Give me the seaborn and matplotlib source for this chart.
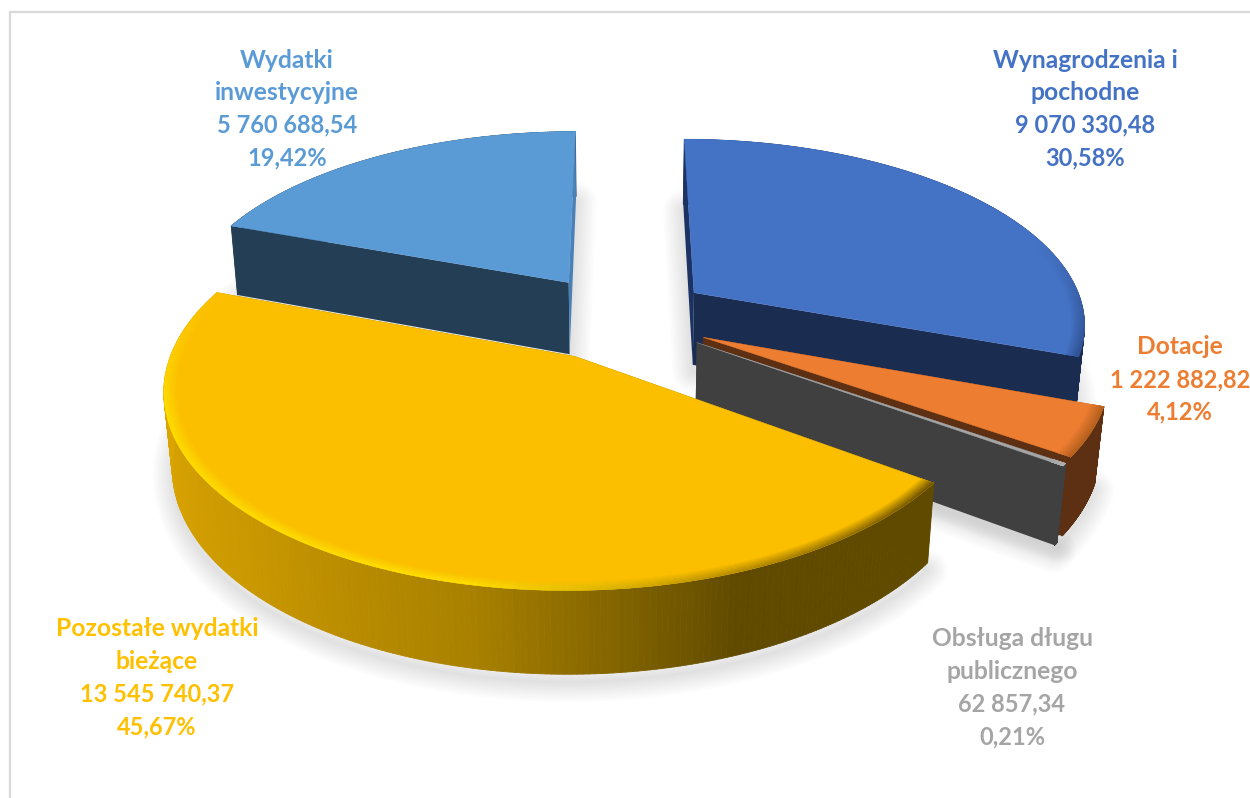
import numpy as np
import seaborn as sns
import matplotlib.pyplot as plt
from matplotlib.collections import PolyCollection

sns.set_theme(style='white')
plt.rcParams['font.family'] = ['Lato', 'DejaVu Sans']

# Data, clockwise from 12 o'clock
names = [['Wynagrodzenia i', 'pochodne'], ['Dotacje'], ['Obsługa długu', 'publicznego'],
         ['Pozostałe wydatki', 'bieżące'], ['Wydatki', 'inwestycyjne']]
values = [9070330.48, 1222882.82, 62857.34, 13545740.37, 5760688.54]
value_labels = ['9 070 330,48', '1 222 882,82', '62 857,34', '13 545 740,37', '5 760 688,54']
percent_labels = ['30,58%', '4,12%', '0,21%', '45,67%', '19,42%']

# Colours per slice
top_colors = ['#4472C4', '#ED7D31', '#A5A5A5', '#FBBF00', '#5B9BD5']
text_colors = ['#4472C4', '#ED7D31', '#A5A5A5', '#FFC000', '#5B9BD5']
start_face = ['#1C3263', '#5E3013', '#404040', '#604A00', '#243F55']
end_face = ['#1A2C50', '#5E3013', '#404040', '#604A00', '#4A80B5']
side_stops = [['#1F3565', '#1A2C50'], ['#5E3013', '#5E3013'], ['#404040', '#404040'],
              ['#604A00', '#604A00', '#A98100', '#C99700', '#DAA400', '#DDA800'],
              ['#243F55', '#243F55']]
bevel_stops = [['#4472C4', '#4472C4', '#4472C4', '#2F5090'], ['#B8621F', '#B8621F'], ['#B0B0B0', '#B0B0B0'],
               ['#6A5000', '#B58A00', '#FFE000', '#FFDD00', '#FFDD00', '#FBBF00'],
               ['#5B9BD5', '#5B9BD5']]
label_x = [1085, 1180, 1012, 157, 287]
label_top = [58, 345, 637, 627, 58]
draw_order = [4, 0, 1, 2, 3]

# Camera and pie shape
cx, cy = 620, 317
elev = np.radians(28)
dist = 5.7
focal = 2235
explode = 0.235
depth = 0.215
line_pitch = 32.5


def project(x, y, z):
    d = dist + y * np.cos(elev) - z * np.sin(elev)
    sx = cx + focal * x / d
    sy = cy - focal * (y * np.sin(elev) + z * np.cos(elev)) / d
    return np.column_stack([sx, sy])


def rim(apex, t, z, r=1.0):
    t = np.atleast_1d(t)
    return project(apex[0] + r * np.sin(t), apex[1] + r * np.cos(t), np.full(t.shape, z))


def face(apex, t, color, ax):
    corners = np.array([[apex[0], apex[1], 0], [apex[0] + np.sin(t), apex[1] + np.cos(t), 0],
                        [apex[0] + np.sin(t), apex[1] + np.cos(t), -depth], [apex[0], apex[1], -depth]])
    ax.fill(*project(*corners.T).T, color=color, lw=0)


shares = np.array(values) / np.sum(values)
edges = np.concatenate([[0], np.cumsum(shares)]) * 2 * np.pi

fig = plt.figure(figsize=(12.5, 7.98), dpi=100)
ax = fig.add_axes([0, 0, 1, 1])
ax.set_xlim(0, 1250)
ax.set_ylim(798, 0)
ax.axis('off')

# Frame of the chart area
ax.plot([10, 10, 1250], [798, 12, 12], color='#D9D9D9', lw=1.6, solid_joinstyle='miter')

slices = []
for i in range(len(values)):
    mid = (edges[i] + edges[i + 1]) / 2
    apex = (explode * np.sin(mid), explode * np.cos(mid))
    slices.append((np.linspace(edges[i], edges[i + 1], 220), apex))

# Soft shadow on the ground, under everything
for t, apex in slices:
    base = np.vstack([project(np.array([apex[0]]), np.array([apex[1]]), np.array([-depth - 0.02])),
                      rim(apex, t, -depth - 0.02)])
    for lw in np.arange(2, 32, 3):
        ax.fill(*base.T, fc='none', ec='#8A8A8A', lw=lw, alpha=0.025, joinstyle='round')

for i in draw_order:
    t, apex = slices[i]
    # outer wall
    side = sns.blend_palette(side_stops[i], n_colors=len(t) - 1)
    up, low = rim(apex, t, 0), rim(apex, t, -depth)
    quads = [np.vstack([up[k], up[k + 1], low[k + 1], low[k]]) for k in range(len(t) - 1)]
    ax.add_collection(PolyCollection(quads, facecolors=side, edgecolors=side, linewidths=0.6))
    # cut faces
    face(apex, t[0], start_face[i], ax)
    face(apex, t[-1], end_face[i], ax)
    # top
    top = np.vstack([project(np.array([apex[0]]), np.array([apex[1]]), np.array([0.0])), up])
    ax.fill(*top.T, color=top_colors[i], lw=0.3)
    # bevel along the rim, fading into the top colour
    bevel = sns.blend_palette(bevel_stops[i], n_colors=len(t) - 1)
    radii = np.linspace(0.968, 1.0, 9)
    base_rgb = np.array(sns.color_palette([top_colors[i]])[0])
    for r0, r1, w in zip(radii[:-1], radii[1:], np.linspace(0.12, 1.0, 8)):
        a, b = rim(apex, t, 0, r0), rim(apex, t, 0, r1)
        ring = [np.vstack([a[k], a[k + 1], b[k + 1], b[k]]) for k in range(len(t) - 1)]
        cols = [tuple(base_rgb * (1 - w) + np.array(c) * w) for c in bevel]
        ax.add_collection(PolyCollection(ring, facecolors=cols, edgecolors=cols, linewidths=0.2))

# Labels, numbers a little narrower than the names
for name, val, pct, color, x, y0 in zip(names, value_labels, percent_labels, text_colors, label_x, label_top):
    lines = [(n, 17.7) for n in name] + [(val, 17), (pct, 17)]
    for k, (line, size) in enumerate(lines):
        ax.text(x, y0 + k * line_pitch, line, ha='center', va='center_baseline', color=color,
                fontsize=size, fontweight='bold')

fig.savefig('out.png', dpi=100)
